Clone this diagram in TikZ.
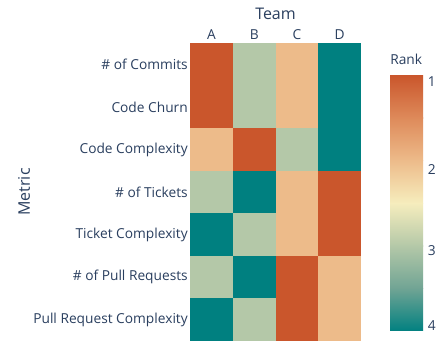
\documentclass[tikz,border=0pt]{standalone}
\usepackage{fontspec}
\setmainfont{Open Sans}
\usepackage{xcolor}
\usepackage{tikz}

\definecolor{ink}{HTML}{2A3F5F}
\definecolor{rk1}{RGB}{202,86,44}
\definecolor{rkh1}{RGB}{222,138,90}
\definecolor{rk2}{RGB}{237,187,138}
\definecolor{rkh2}{RGB}{246,237,189}
\definecolor{rk3}{RGB}{180,200,168}
\definecolor{rkh3}{RGB}{112,164,148}
\definecolor{rk4}{RGB}{0,128,128}

\begin{document}
\begin{tikzpicture}[x=0.75pt,y=-0.75pt,
      cell/.style={rectangle,inner sep=0pt,outer sep=0pt,anchor=north west,
        minimum width=32.2pt,minimum height=32.1pt},
      ticklab/.style={text=ink,inner sep=0pt,font=\fontsize{10.3}{12}\selectfont},
      axtitle/.style={text=ink,inner sep=0pt,font=\fontsize{12}{14}\selectfont}]
      \fill[white] (0,0) rectangle (439,343);
      \useasboundingbox (0,0) rectangle (439,343);
      % heatmap
      \foreach \r/\lab/\vals in {1/{\# of Commits}/{1,3,2,4},
          2/{Code Churn}/{1,3,2,4},
          3/{Code Complexity}/{2,1,3,4},
          4/{\# of Tickets}/{3,4,2,1},
          5/{Ticket Complexity}/{4,3,2,1},
          6/{\# of Pull Requests}/{3,4,1,2},
          7/{Pull Request Complexity}/{4,3,1,2}} {
        \foreach \v [count=\c] in \vals {
          \node[cell,fill=rk\v] (m\r\c) at ({190+42.75*(\c-1)},{43+42.57*(\r-1)}) {};
        }
        \node[ticklab,anchor=east] (lab\r) at ([xshift=-1.5pt]m\r1.west) {\lab};
      }
      \foreach \t [count=\c] in {A,B,C,D}
        \node[ticklab,anchor=base] (col\c) at ([yshift=2.4pt]m1\c.north) {\t};
      \node[axtitle] (team) at (275.5,14) {Team};
      \node[axtitle,rotate=90] (metric) at (24,192) {Metric};
      % colour bar
      \foreach \ca/\cb [count=\i] in {rk1/rkh1,rkh1/rk2,rk2/rkh2,rkh2/rk3,rk3/rkh3,rkh3/rk4}
        \shade[top color=\ca,bottom color=\cb]
          (390,{75+42.67*(\i-1)}) rectangle (423,{75.4+42.67*\i});
      \fill[white] (389,331) rectangle (424,333);
      \node[ticklab,anchor=west] (rank) at (390,59) {Rank};
      \foreach \t/\y in {1/82,2/170,3/250.5,4/326}
        \node[ticklab,anchor=west] (tk\t) at (427.5,\y) {\t};
\end{tikzpicture}
\end{document}
